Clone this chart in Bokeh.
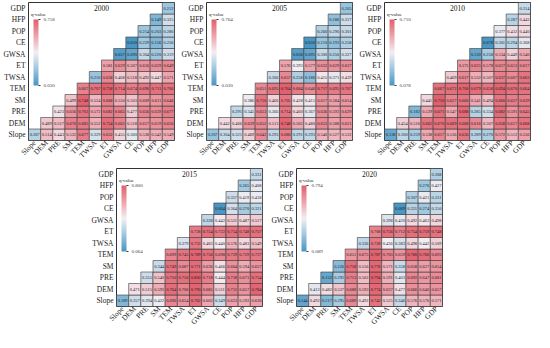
import math
from bokeh.plotting import figure
from bokeh.models import (ColumnDataSource, LinearColorMapper, ColorBar, FixedTicker,
                          Label, Spacer, PrintfTickFormatter)
from bokeh.layouts import column, row
from bokeh.transform import transform
from bokeh.embed import file_html
from bokeh.resources import INLINE
from bokeh.core.properties import value

factors = ["Slope", "DEM", "PRE", "SM", "TEM", "TWSA", "ET", "GWSA", "CE", "POP", "HFP", "GDP"]

# each row: values from the diagonal cell to the GDP column (rows Slope ... GDP)
q2000 = [
    [0.267, 0.514, 0.443, 0.532, 0.677, 0.329, 0.652, 0.455, 0.360, 0.538, 0.542, 0.549],
    [0.489, 0.517, 0.670, 0.685, 0.552, 0.724, 0.662, 0.518, 0.617, 0.619, 0.656],
    [0.423, 0.616, 0.703, 0.572, 0.682, 0.665, 0.477, 0.656, 0.639, 0.677],
    [0.499, 0.748, 0.524, 0.668, 0.550, 0.503, 0.609, 0.611, 0.646],
    [0.667, 0.707, 0.758, 0.714, 0.674, 0.696, 0.711, 0.706],
    [0.210, 0.658, 0.468, 0.518, 0.492, 0.447, 0.571],
    [0.581, 0.629, 0.567, 0.616, 0.629, 0.649],
    [0.057, 0.090, 0.304, 0.220, 0.319],
    [0.030, 0.229, 0.156, 0.256],
    [0.214, 0.203, 0.280],
    [0.149, 0.325],
    [0.212],
]
q2005 = [
    [0.207, 0.304, 0.321, 0.469, 0.642, 0.293, 0.680, 0.291, 0.293, 0.540, 0.527, 0.532],
    [0.442, 0.466, 0.629, 0.652, 0.513, 0.748, 0.562, 0.480, 0.653, 0.588, 0.621],
    [0.291, 0.345, 0.653, 0.366, 0.714, 0.460, 0.367, 0.636, 0.593, 0.629],
    [0.386, 0.710, 0.466, 0.705, 0.428, 0.415, 0.617, 0.584, 0.614],
    [0.651, 0.695, 0.764, 0.684, 0.646, 0.717, 0.695, 0.707],
    [0.306, 0.657, 0.258, 0.180, 0.415, 0.371, 0.439],
    [0.576, 0.393, 0.577, 0.632, 0.629, 0.637],
    [0.058, 0.095, 0.300, 0.250, 0.327],
    [0.030, 0.210, 0.193, 0.258],
    [0.260, 0.296, 0.301],
    [0.186, 0.317],
    [0.205],
]
q2010 = [
    [0.138, 0.300, 0.259, 0.538, 0.617, 0.536, 0.656, 0.289, 0.270, 0.572, 0.512, 0.556],
    [0.454, 0.516, 0.662, 0.670, 0.669, 0.668, 0.616, 0.507, 0.658, 0.617, 0.668],
    [0.182, 0.539, 0.671, 0.547, 0.688, 0.285, 0.334, 0.682, 0.591, 0.645],
    [0.441, 0.710, 0.627, 0.660, 0.541, 0.494, 0.660, 0.637, 0.639],
    [0.667, 0.672, 0.700, 0.679, 0.658, 0.694, 0.670, 0.664],
    [0.469, 0.617, 0.532, 0.507, 0.637, 0.607, 0.663],
    [0.575, 0.625, 0.578, 0.617, 0.613, 0.617],
    [0.130, 0.258, 0.534, 0.449, 0.540],
    [0.078, 0.301, 0.294, 0.368],
    [0.377, 0.432, 0.440],
    [0.287, 0.443],
    [0.314],
]
q2015 = [
    [0.189, 0.357, 0.394, 0.422, 0.696, 0.654, 0.762, 0.602, 0.349, 0.623, 0.592, 0.630],
    [0.471, 0.515, 0.593, 0.764, 0.706, 0.790, 0.685, 0.511, 0.712, 0.657, 0.784],
    [0.355, 0.540, 0.750, 0.756, 0.800, 0.718, 0.444, 0.718, 0.671, 0.754],
    [0.344, 0.749, 0.687, 0.771, 0.636, 0.466, 0.664, 0.594, 0.657],
    [0.699, 0.745, 0.789, 0.756, 0.698, 0.729, 0.729, 0.737],
    [0.379, 0.733, 0.483, 0.440, 0.576, 0.483, 0.549],
    [0.728, 0.754, 0.722, 0.754, 0.748, 0.757],
    [0.328, 0.442, 0.521, 0.487, 0.517],
    [0.064, 0.364, 0.270, 0.321],
    [0.357, 0.419, 0.418],
    [0.265, 0.408],
    [0.331],
]
q2020 = [
    [0.144, 0.492, 0.217, 0.295, 0.689, 0.492, 0.742, 0.525, 0.346, 0.576, 0.576, 0.571],
    [0.412, 0.482, 0.537, 0.688, 0.593, 0.774, 0.637, 0.477, 0.666, 0.640, 0.657],
    [0.152, 0.292, 0.713, 0.562, 0.794, 0.591, 0.403, 0.692, 0.647, 0.681],
    [0.226, 0.758, 0.556, 0.776, 0.571, 0.358, 0.658, 0.627, 0.654],
    [0.651, 0.675, 0.787, 0.705, 0.659, 0.780, 0.766, 0.693],
    [0.336, 0.728, 0.436, 0.383, 0.498, 0.442, 0.509],
    [0.708, 0.756, 0.712, 0.754, 0.759, 0.748],
    [0.396, 0.420, 0.492, 0.463, 0.498],
    [0.089, 0.321, 0.274, 0.350],
    [0.307, 0.421, 0.331],
    [0.276, 0.427],
    [0.308],
]

FONT = "Liberation Serif"
FW, FH = 146, 138


def hex2rgb(h):
    h = h.lstrip("#")
    return [int(h[i:i + 2], 16) for i in (0, 2, 4)]


def make_palette(stops, n=256):
    cols = [hex2rgb(s) for s in stops]
    out = []
    for k in range(n):
        t = k / (n - 1) * (len(cols) - 1)
        i = min(int(t), len(cols) - 2)
        f = t - i
        c = [round(cols[i][j] + (cols[i + 1][j] - cols[i][j]) * f) for j in range(3)]
        out.append("#%02x%02x%02x" % tuple(c))
    return out


PAL = make_palette(["#4a96c4", "#9cc6df", "#f3eef3", "#eea3ad", "#e2606d"])


def panel(year, rows):
    xs, ys, qs = [], [], []
    for i, r in enumerate(rows):
        for k, v in enumerate(r):
            xs.append(factors[i + k])
            ys.append(factors[i])
            qs.append(v)
    vmin, vmax = min(qs), max(qs)
    src = ColumnDataSource(dict(x=xs, y=ys, q=qs, lab=["%.3f" % v for v in qs]))
    p = figure(frame_width=FW, frame_height=FH, x_range=factors, y_range=factors,
               output_backend="svg", toolbar_location=None,
               min_border_left=28, min_border_right=4, min_border_top=2,
               min_border_bottom=0)
    mapper = LinearColorMapper(palette=PAL, low=vmin, high=vmax)
    p.rect("x", "y", 1, 1, source=src, fill_color=transform("q", mapper),
           line_color="#3a3a3a", line_width=0.6)
    p.text("x", "y", text="lab", source=src, text_font=value(FONT),
           text_font_size="4.4px", text_align="center", text_baseline="middle",
           text_color="#1a1a1a")
    p.grid.visible = False
    p.outline_line_color = "#333333"
    p.outline_line_width = 1
    for ax in (p.xaxis, p.yaxis):
        ax.axis_line_color = None
        ax.major_tick_line_color = None
        ax.minor_tick_line_color = None
        ax.major_tick_out = 0
        ax.major_tick_in = 0
        ax.minor_tick_out = 0
        ax.minor_tick_in = 0
        ax.major_label_text_font = FONT
        ax.major_label_text_font_size = "7.5px"
        ax.major_label_text_color = "#222222"
        ax.major_label_standoff = 3
    p.xaxis.major_label_orientation = math.pi / 4
    p.xaxis.major_label_standoff = 1
    p.add_layout(Label(x=6.0, y=11.5, text=year, text_font=FONT, text_font_size="7.5px",
                       text_align="center", text_baseline="middle", text_color="#222222"))
    p.add_layout(Label(x=0.2, y=11.0, text="q-value", text_font=FONT, text_font_size="5px",
                       text_align="left", text_baseline="middle", text_color="#222222"))
    cb = ColorBar(color_mapper=mapper, location=(3, FH - 15 - 70), orientation="vertical",
                  width=5, height=66, margin=0, padding=2,
                  ticker=FixedTicker(ticks=[vmin, vmax]),
                  formatter=PrintfTickFormatter(format="%.3f"),
                  major_label_text_font=FONT, major_label_text_font_size="5px",
                  label_standoff=3, major_tick_in=0, major_tick_out=2,
                  major_tick_line_color="#333333", bar_line_color=None,
                  background_fill_alpha=0, border_line_color=None)
    p.add_layout(cb)
    return p


p1 = panel("2000", q2000)
p2 = panel("2005", q2005)
p3 = panel("2010", q2010)
p4 = panel("2015", q2015)
p5 = panel("2020", q2020)

layout = column(row(p1, p2, p3),
                row(Spacer(width=88, height=10), p4, Spacer(width=2, height=10), p5))

open("out.html", "w").write(file_html(layout, INLINE))
